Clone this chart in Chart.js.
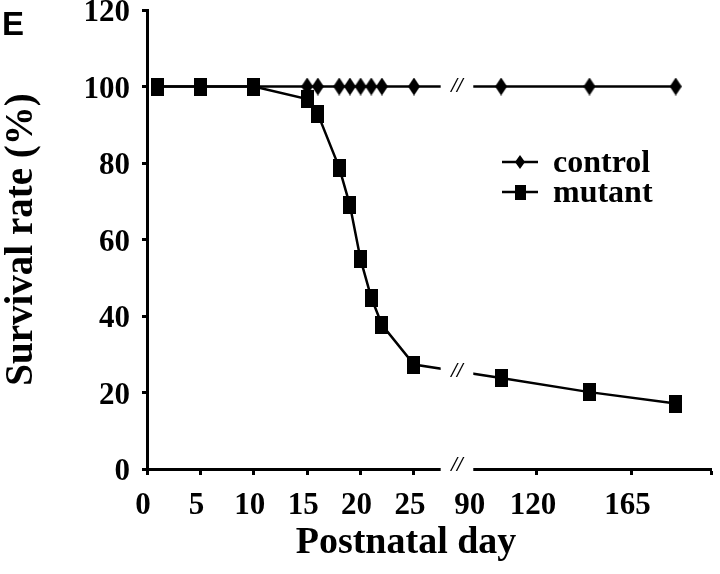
<!DOCTYPE html>
<html>
<head>
<meta charset="utf-8">
<script src="https://cdn.jsdelivr.net/npm/chart.js@4.4.1/dist/chart.umd.min.js"></script>
<style>
  html, body { margin: 0; padding: 0; background: #fff; }
  #wrap { width: 720px; height: 574px; position: relative; }
</style>
</head>
<body>
<div id="wrap"><canvas id="chart"></canvas></div>
<script>
// values
const days = [1, 5, 10, 15, 16, 18, 19, 20, 21, 22, 25, 103, 145, 186];
const control = [100, 100, 100, 100, 100, 100, 100, 100, 100, 100, 100, 100, 100, 100];
const mutant = [100, 100, 100, 96.7, 92.8, 78.8, 69, 54.8, 44.8, 37.7, 27.3, 23.8, 20.1, 17.1];
const seriesNames = ["control", "mutant"];
const xTicks = [0, 5, 10, 15, 20, 25, 90, 120, 165];
const xEnd = 203;
const yMax = 120, yStep = 20;

const SERIF = "'Liberation Serif', 'Times New Roman', serif";

// broken x axis: 0..27 linear, gap, then 90..203 squeezed
const LEFT_END = 27.5;
const RIGHT_START = 90;
const RIGHT_AT = 30.6;
const RIGHT_SCALE = 0.197;

function toUnit(d) {
    return d <= LEFT_END ? d : RIGHT_AT + (d - RIGHT_START) * RIGHT_SCALE;
}

class BrokenScale extends Chart.LinearScale {
    buildTicks() {
        return xTicks.concat([this.max]).map(v => ({ value: v }));
    }
    getPixelForValue(v) {
        return this.left + this.width * toUnit(v) / toUnit(this.max);
    }
}
BrokenScale.id = "broken";
BrokenScale.defaults = Chart.LinearScale.defaults;
Chart.register(BrokenScale);

function marker(w, h, shape) {
    let c = document.createElement("canvas");
    c.width = w; c.height = h;
    let g = c.getContext("2d");
    g.fillStyle = "#000";
    if (shape === "diamond") {
        g.beginPath();
        g.moveTo(w / 2, 0); g.lineTo(w, h / 2); g.lineTo(w / 2, h); g.lineTo(0, h / 2);
        g.closePath(); g.fill();
    } else g.fillRect(0, 0, w, h);
    return c;
}

const diamond = marker(12, 18, "diamond");
const square = marker(13, 18, "square");
const diamondSmall = marker(10, 14, "diamond");
const squareSmall = marker(11, 15, "square");

// panel letter, legend, axis break marks, x title
const extras = {
    id: "extras",
    afterDatasetsDraw(chart) {
        let {ctx, chartArea, scales} = chart;
        let x = scales.x;
        let gx0 = x.getPixelForValue(LEFT_END), gx1 = x.getPixelForValue(RIGHT_START) - 0.5;
        let cx = (gx0 + gx1) / 2;

        ctx.save();
        ctx.fillStyle = "#fff";
        ctx.fillRect(gx0, chartArea.top - 2, gx1 - gx0, chartArea.bottom - chartArea.top + 5);

        let ys = [chartArea.bottom - 3];
        chart.data.datasets.forEach((ds, i) => {
            let pts = chart.getDatasetMeta(i).data;
            for (let k = 1; k < pts.length; k++) {
                if (pts[k - 1].x <= cx && pts[k].x >= cx) {
                    let t = (cx - pts[k - 1].x) / (pts[k].x - pts[k - 1].x);
                    ys.push(pts[k - 1].y + t * (pts[k].y - pts[k - 1].y));
                }
            }
        });
        ctx.fillStyle = "#000";
        ctx.font = "italic bold 21px " + SERIF;
        ctx.textAlign = "center";
        ctx.textBaseline = "middle";
        ys.forEach(y => ctx.fillText("//", cx, y));

        // x title
        ctx.font = "bold 38px " + SERIF;
        ctx.textBaseline = "alphabetic";
        ctx.fillText("Postnatal day", 406, 553);

        // panel letter
        ctx.textAlign = "left";
        ctx.font = "bold 33px 'Liberation Sans', Arial, sans-serif";
        ctx.fillText("E", 2, 35);

        // legend
        let marks = [diamondSmall, squareSmall];
        ctx.font = "bold 32px " + SERIF;
        seriesNames.forEach((name, i) => {
            let ly = 162 + i * 30;
            ctx.strokeStyle = "#000";
            ctx.lineWidth = 2.5;
            ctx.beginPath(); ctx.moveTo(502, ly); ctx.lineTo(538, ly); ctx.stroke();
            let m = marks[i];
            ctx.drawImage(m, 520 - m.width / 2, ly - m.height / 2);
            ctx.fillText(name, 553, ly + 10);
        });
        ctx.restore();
    }
};

new Chart(document.getElementById("chart"), {
    type: "line",
    data: {
        datasets: [
            {
                label: seriesNames[0],
                data: days.map((d, i) => ({ x: d, y: control[i] })),
                borderColor: "#000",
                backgroundColor: "#000",
                borderWidth: 2.5,
                pointStyle: diamond,
                pointRadius: 6,
                order: 1
            },
            {
                label: seriesNames[1],
                data: days.map((d, i) => ({ x: d, y: mutant[i] })),
                borderColor: "#000",
                backgroundColor: "#000",
                borderWidth: 2.5,
                pointStyle: square,
                pointRadius: 6,
                order: 0
            }
        ]
    },
    options: {
        responsive: true,
        maintainAspectRatio: false,
        animation: false,
        events: [],
        layout: { padding: { top: 10, right: 7, left: 0, bottom: 0 } },
        plugins: { legend: { display: false }, tooltip: { enabled: false } },
        scales: {
            x: {
                type: "broken",
                min: 0,
                max: xEnd,
                border: { display: true, color: "#000", width: 3 },
                grid: {
                    drawOnChartArea: false,
                    tickLength: 6,
                    tickWidth: 3,
                    tickColor: c => c.tick && c.tick.value === RIGHT_START ? "rgba(0,0,0,0)" : "#000"
                },
                ticks: {
                    autoSkip: false,
                    maxRotation: 0,
                    padding: 12,
                    labelOffset: -4,
                    color: "#000",
                    font: { family: SERIF, size: 31, weight: "bold" },
                    callback: v => v === xEnd ? "" : String(v)
                },
                afterFit: s => { s.height = 105; s.paddingLeft = 0; s.paddingRight = 0; }
            },
            y: {
                min: 0,
                max: yMax,
                border: { display: true, color: "#000", width: 3 },
                grid: { drawOnChartArea: false, tickLength: 5, tickWidth: 3, tickColor: "#000" },
                ticks: {
                    stepSize: yStep,
                    padding: 12,
                    labelOffset: 3,
                    color: "#000",
                    font: { family: SERIF, size: 31, weight: "bold" }
                },
                title: {
                    display: true,
                    text: "Survival rate (%)",
                    color: "#000",
                    padding: 0,
                    font: { family: SERIF, size: 39, weight: "bold", lineHeight: 1.1 }
                },
                afterFit: s => { s.width = 147; s.paddingTop = 0; s.paddingBottom = 0; }
            }
        }
    },
    plugins: [extras]
});
</script>
</body>
</html>
